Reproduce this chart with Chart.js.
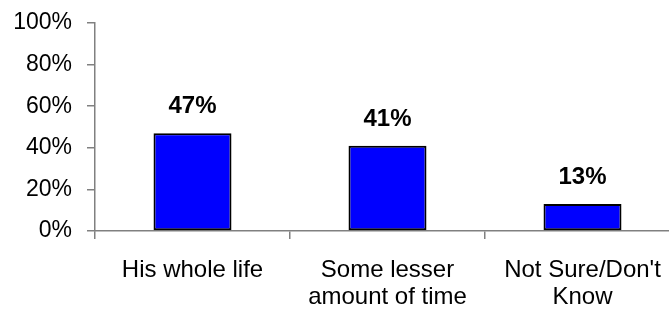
<!DOCTYPE html>
<html>
<head>
<meta charset="utf-8">
<script src="https://cdn.jsdelivr.net/npm/chart.js@4.4.0/dist/chart.umd.min.js"></script>
<style>
  html, body { margin: 0; padding: 0; background: #fff; overflow: hidden; }
  #wrap { width: 685px; height: 314px; }
</style>
</head>
<body>
<div id="wrap"><canvas id="chart" width="685" height="314"></canvas></div>
<script>
// data
const categories = [
  "His whole life",
  ["Some lesser", "amount of time"],
  ["Not Sure/Don't", "Know"]
];
const values = [47, 41, 13];
const yTicks = [0, 20, 40, 60, 80, 100];

const FONT = "'Liberation Sans', Arial, sans-serif";

// labels on top of the bars
const barLabels = {
  id: "barLabels",
  afterDatasetsDraw(chart) {
    const ctx = chart.ctx;
    const meta = chart.getDatasetMeta(0);
    ctx.save();
    ctx.font = "bold 24px " + FONT;
    ctx.fillStyle = "#000";
    ctx.textAlign = "center";
    ctx.textBaseline = "alphabetic";
    meta.data.forEach((bar, i) => {
      ctx.fillText(values[i] + "%", bar.x, bar.y - 20);
    });
    ctx.restore();
  }
};

new Chart(document.getElementById("chart").getContext("2d"), {
  type: "bar",
  data: {
    labels: categories,
    datasets: [{
      data: values,
      backgroundColor: "#0000FF",
      borderColor: "#000",
      borderWidth: 2,
      borderSkipped: false,
      barPercentage: 0.4,
      categoryPercentage: 1
    }]
  },
  options: {
    responsive: false,
    animation: false,
    layout: { padding: { top: 23, right: 5, left: 0, bottom: 0 } },
    plugins: {
      legend: { display: false },
      tooltip: { enabled: false }
    },
    scales: {
      x: {
        grid: {
          offset: true,
          drawOnChartArea: false,
          tickLength: 8,
          color: "#808080",
          lineWidth: 1.5
        },
        border: { display: true, color: "#808080", width: 1.5 },
        ticks: {
          color: "#000",
          font: { family: FONT, size: 24, lineHeight: 1.13 },
          padding: 18,
          maxRotation: 0,
          autoSkip: false
        },
        afterFit: (scale) => {
          scale.height = 83;
          scale.paddingLeft = 0;
          scale.paddingRight = 0;
        }
      },
      y: {
        min: 0,
        max: 100,
        afterBuildTicks: (scale) => {
          scale.ticks = yTicks.map(v => ({ value: v }));
        },
        grid: {
          drawOnChartArea: false,
          tickLength: 8,
          color: "#808080",
          lineWidth: 1.5
        },
        border: { display: true, color: "#808080", width: 1.5 },
        ticks: {
          color: "#000",
          font: { family: FONT, size: 23 },
          padding: 15,
          callback: (v) => v + "%"
        },
        afterFit: (scale) => {
          scale.width = 95;
          scale.paddingTop = 0;
          scale.paddingBottom = 0;
        }
      }
    }
  },
  plugins: [barLabels]
});
</script>
</body>
</html>
